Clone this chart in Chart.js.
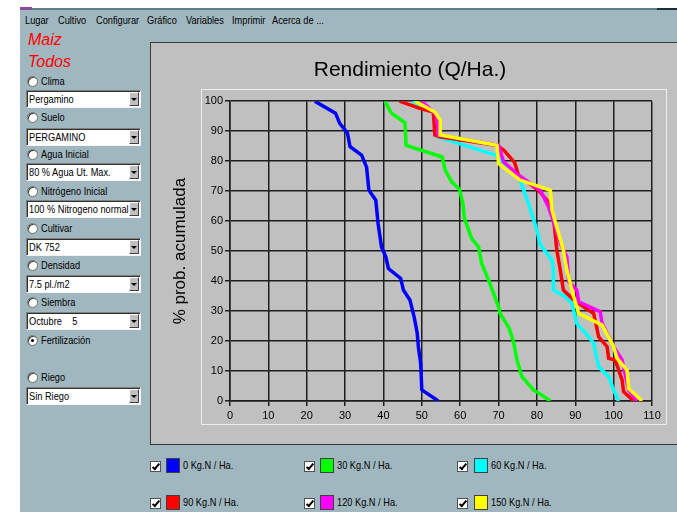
<!DOCTYPE html>
<html><head><meta charset="utf-8">
<script src="https://cdn.jsdelivr.net/npm/chart.js@4.4.0/dist/chart.umd.min.js"></script>
<style>
html,body{margin:0;padding:0;background:#fff;width:677px;height:512px;overflow:hidden;font-family:"Liberation Sans",Arial,sans-serif}
#win{position:absolute;left:20px;top:8px;width:657px;height:504px;background:#a0b7bf;border-top:2px solid #5d7d8a;box-sizing:border-box}
#icon{position:absolute;left:20px;top:7px;width:12px;height:3px;background:#8a4aa0}
#tr{position:absolute;left:657px;top:8px;width:20px;height:2px;background:#203038}
.t{position:absolute;font-size:11px;line-height:13px;transform:scaleX(.84);transform-origin:0 50%;white-space:pre;color:#000}
.red{position:absolute;font-size:16px;line-height:18px;font-style:italic;color:#ff0000;white-space:nowrap}
.rd{position:absolute;left:27px;width:11px;height:11px;border-radius:50%;background:#fff;border:1px solid #707070;box-sizing:border-box;box-shadow:inset 1px 1px 0 #404040}
.rd.on::after{content:"";position:absolute;left:3px;top:3px;width:3px;height:3px;border-radius:50%;background:#000}
.cb{position:absolute;left:26px;width:115px;height:18px;background:#fff;box-sizing:border-box;border-top:1px solid #808080;border-left:1px solid #808080;border-right:1px solid #f4f4f4;border-bottom:1px solid #f4f4f4;box-shadow:inset 1px 1px 0 #303030}
.cb .t{left:2px;top:2px}
.btn{position:absolute;right:1px;top:1px;width:10px;height:14px;background:#c0c0c0;box-sizing:border-box;border-top:1px solid #fff;border-left:1px solid #fff;border-right:1px solid #404040;border-bottom:1px solid #404040}
.btn::after{content:"";position:absolute;left:1px;top:5px;border-left:3px solid transparent;border-right:3px solid transparent;border-top:3px solid #000}
#panel{position:absolute;left:150px;top:42px;width:527px;height:403px;background:#c0c0c0;border-left:1px solid #3a3a3a;border-top:1px solid #3a3a3a;border-bottom:1px solid #3a3a3a;box-sizing:border-box}
#frame{position:absolute;left:201px;top:89px;width:466px;height:336px;border:1px solid #eeeeee;box-sizing:border-box}
#c{position:absolute;left:150px;top:43px}
.ck{position:absolute;width:11px;height:11px;background:#fff;border:1px solid #505050;box-sizing:border-box}
.ck::after{content:"";position:absolute;left:3px;top:0px;width:2px;height:6px;border:solid #000;border-width:0 2px 2px 0;transform:rotate(40deg)}
.sw{position:absolute;width:14px;height:15px;border:1px solid #404040;box-sizing:border-box}
</style></head>
<body>
<div id="win"></div>
<div id="icon"></div>
<div id="tr"></div>

<div class="t" style="left:25px;top:14px">Lugar</div>
<div class="t" style="left:58px;top:14px">Cultivo</div>
<div class="t" style="left:96px;top:14px">Configurar</div>
<div class="t" style="left:147px;top:14px">Gráfico</div>
<div class="t" style="left:186px;top:14px">Variables</div>
<div class="t" style="left:232px;top:14px">Imprimir</div>
<div class="t" style="left:272px;top:14px">Acerca de ...</div>

<div class="red" style="left:28px;top:31px">Maiz</div>
<div class="red" style="left:28px;top:53px">Todos</div>

<div class="rd" style="top:76px"></div><div class="t" style="left:41px;top:75px">Clima</div>
<div class="cb" style="top:90px"><div class="t">Pergamino</div><div class="btn"></div></div>
<div class="rd" style="top:112px"></div><div class="t" style="left:41px;top:111px">Suelo</div>
<div class="cb" style="top:128px"><div class="t">PERGAMINO</div><div class="btn"></div></div>
<div class="rd" style="top:149px"></div><div class="t" style="left:41px;top:148px">Agua Inicial</div>
<div class="cb" style="top:163px"><div class="t">80 % Agua Ut. Max.</div><div class="btn"></div></div>
<div class="rd" style="top:186px"></div><div class="t" style="left:41px;top:185px">Nitrógeno Inicial</div>
<div class="cb" style="top:200px"><div class="t">100 % Nitrogeno normal</div><div class="btn"></div></div>
<div class="rd" style="top:223px"></div><div class="t" style="left:41px;top:222px">Cultivar</div>
<div class="cb" style="top:238px"><div class="t">DK 752</div><div class="btn"></div></div>
<div class="rd" style="top:260px"></div><div class="t" style="left:41px;top:259px">Densidad</div>
<div class="cb" style="top:275px"><div class="t">7.5 pl./m2</div><div class="btn"></div></div>
<div class="rd" style="top:297px"></div><div class="t" style="left:41px;top:296px">Siembra</div>
<div class="cb" style="top:312px"><div class="t">Octubre    5</div><div class="btn"></div></div>
<div class="rd on" style="top:335px"></div><div class="t" style="left:41px;top:334px">Fertilización</div>
<div class="rd" style="top:372px"></div><div class="t" style="left:41px;top:371px">Riego</div>
<div class="cb" style="top:387px"><div class="t">Sin Riego</div><div class="btn"></div></div>

<div id="panel"></div>
<div id="frame"></div>
<canvas id="c" width="520" height="401"></canvas>

<div class="ck" style="left:150px;top:461px"></div><div class="sw" style="left:166px;top:458px;background:#0000ff"></div><div class="t" style="left:183px;top:459px">0 Kg.N / Ha.</div>
<div class="ck" style="left:304px;top:461px"></div><div class="sw" style="left:320px;top:458px;background:#00ff00"></div><div class="t" style="left:337px;top:459px">30 Kg.N / Ha.</div>
<div class="ck" style="left:457px;top:461px"></div><div class="sw" style="left:474px;top:458px;background:#00ffff"></div><div class="t" style="left:491px;top:459px">60 Kg.N / Ha.</div>
<div class="ck" style="left:150px;top:498px"></div><div class="sw" style="left:166px;top:495px;background:#ff0000"></div><div class="t" style="left:183px;top:496px">90 Kg.N / Ha.</div>
<div class="ck" style="left:304px;top:498px"></div><div class="sw" style="left:320px;top:495px;background:#ff00ff"></div><div class="t" style="left:337px;top:496px">120 Kg.N / Ha.</div>
<div class="ck" style="left:457px;top:498px"></div><div class="sw" style="left:474px;top:495px;background:#ffff00"></div><div class="t" style="left:491px;top:496px">150 Kg.N / Ha.</div>

<script>
// Rendimiento (Q/Ha.) per nitrogen dose, with cumulative probability (%)
const x0 = [22.1, 27.5, 28.6, 30.6, 31.3, 34.3, 35.6, 36.2, 38.0, 38.6, 39.5, 40.6, 41.3, 44.5, 45.2, 46.9, 48.0, 48.8, 49.1, 49.7, 50.0, 54.3];
const y0 = [100, 96, 92.6, 89.4, 84.8, 82, 78, 70.3, 67, 59.2, 51.4, 48.1, 44.2, 40.9, 37, 33.7, 28.1, 22.6, 18.1, 12.6, 3.7, 0];

const x30 = [40.4, 42.0, 45.6, 45.9, 48.5, 55.3, 56.1, 57.8, 59.8, 60.7, 61.1, 63.0, 64.8, 65.6, 67.4, 68.7, 70.0, 70.4, 72.8, 73.9, 74.8, 76.1, 79.1, 80.9, 83.5];
const y30 = [100, 96.1, 92.8, 85.3, 84.2, 81.4, 77, 73.1, 70.6, 65.9, 60.9, 54.2, 51.4, 45.9, 40.3, 35.9, 31.4, 29.2, 24.2, 19.8, 13.7, 8.1, 3.7, 2.3, 0];

const x60 = [47.5, 52.0, 53.4, 54.0, 69.3, 75.6, 77.8, 80.0, 80.9, 83.9, 84.3, 84.3, 87.4, 89.1, 90.4, 93.5, 94.8, 96.1, 98.7, 100.0, 101.3];
const y60 = [100, 97.3, 96.2, 88.2, 82, 73.7, 65.9, 57, 52, 47, 44.2, 37, 34.8, 32.6, 25.9, 21.4, 19.2, 11.4, 8.1, 3.7, 0];

const x90 = [44.2, 49.5, 53.0, 53.4, 54.7, 69.8, 71.5, 74.2, 75.2, 80.4, 82.6, 84.3, 85.2, 86.1, 86.9, 89.6, 92.2, 94.8, 96.1, 98.3, 98.7, 100.4, 102.2, 102.6, 105.2];
const y90 = [100, 97.6, 96.4, 88.7, 88.1, 85.2, 83.5, 79.5, 75.3, 70.3, 67, 61.4, 50.3, 43.7, 37, 33.7, 31.4, 29.2, 21.4, 18.1, 14.2, 13.7, 7, 3.1, 0];

const x120 = [50.0, 53.9, 54.3, 70.0, 71.3, 75.2, 80.9, 83.0, 84.8, 86.1, 87.8, 88.3, 90.4, 90.9, 96.5, 97.0, 100.0, 102.2, 103.9, 106.1];
const y120 = [100, 95.3, 88.7, 85.3, 79.8, 75.3, 70.3, 64.8, 58.1, 52.6, 48.1, 39.8, 37, 33.1, 29.8, 25.9, 18.1, 13.7, 3.7, 0];

const x150 = [48.2, 53.4, 54.8, 54.8, 69.6, 70.0, 75.6, 83.5, 83.9, 86.9, 87.8, 89.6, 90.9, 97.0, 100.0, 100.9, 103.5, 103.9, 107.4];
const y150 = [100, 96.4, 93.7, 88.7, 85.3, 79.2, 73.7, 70.3, 63.7, 50.3, 43.7, 34.8, 29.2, 25.3, 18.1, 14.2, 10.3, 4.2, 0];

const seriesLabels = ['0 Kg.N / Ha.', '30 Kg.N / Ha.', '60 Kg.N / Ha.', '90 Kg.N / Ha.', '120 Kg.N / Ha.', '150 Kg.N / Ha.'];
const seriesColors = ['#0000ff', '#00ff00', '#00ffff', '#ff0000', '#ff00ff', '#ffff00'];
const xs = [x0, x30, x60, x90, x120, x150];
const ys = [y0, y30, y60, y90, y120, y150];

const chartTitle = 'Rendimiento (Q/Ha.)';
const yTitle = '% prob. acumulada';

Chart.defaults.font.family = '"Liberation Sans", Arial, sans-serif';
Chart.defaults.color = '#000';

const gridCol = '#1e1e1e';
new Chart(document.getElementById('c'), {
  type: 'scatter',
  data: {
    datasets: xs.map((xa, i) => ({
      label: seriesLabels[i],
      data: xa.map((v, j) => ({ x: v, y: ys[i][j] })),
      showLine: true,
      borderColor: seriesColors[i],
      backgroundColor: seriesColors[i],
      borderWidth: 3.5,
      pointRadius: 0,
      tension: 0,
      order: xs.length - i
    }))
  },
  options: {
    responsive: false,
    animation: false,
    layout: { padding: { left: 18, right: 18, top: 0, bottom: 0 } },
    plugins: {
      legend: { display: false },
      tooltip: { enabled: false },
      title: { display: true, text: chartTitle, color: '#000', font: { size: 21, weight: 'normal' }, padding: { top: 15, bottom: 18 } }
    },
    scales: {
      x: {
        type: 'linear', min: 0, max: 110,
        ticks: { stepSize: 10, font: { size: 11 }, color: '#000', padding: 3, maxRotation: 0 },
        grid: { color: gridCol, lineWidth: 1.5, tickLength: 5, tickColor: gridCol },
        border: { color: gridCol, width: 1.5 },
        afterFit(s) { s.height = 43; }
      },
      y: {
        type: 'linear', min: 0, max: 100,
        ticks: { stepSize: 10, font: { size: 11 }, color: '#000', padding: 2 },
        grid: { color: gridCol, lineWidth: 1.5, tickLength: 5, tickColor: gridCol },
        border: { color: gridCol, width: 1.5 },
        title: { display: true, text: yTitle, color: '#000', font: { size: 17, weight: 'normal' }, padding: { top: 2, bottom: 0 } },
        afterFit(s) { s.width = 62; }
      }
    }
  }
});
</script>
</body></html>
